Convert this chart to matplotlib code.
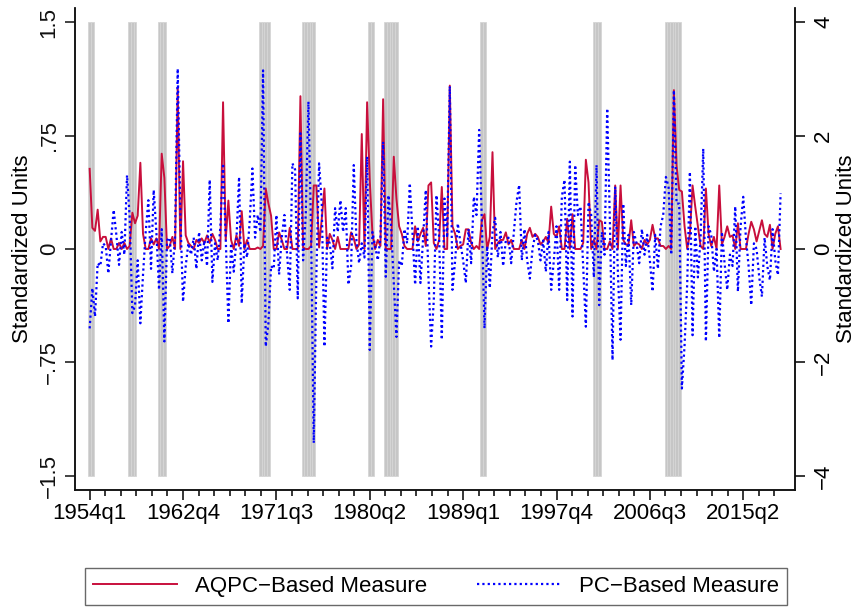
import matplotlib
matplotlib.use("Agg")
import matplotlib.pyplot as plt
from matplotlib.lines import Line2D
import numpy as np

plt.rcParams['font.family'] = ['Liberation Sans', 'DejaVu Sans']

# quarterly sample: 1954q1 .. 2018q4
start_year = 1954
n_quarters = 260
quarters = [f"{start_year + i // 4}q{i % 4 + 1}" for i in range(n_quarters)]

# AQPC-based measure (left axis)
aqpc = [
    0.53, 0.14, 0.12, 0.26, 0.05, 0.08, 0.08, 0.00, 0.07, 0.00,
    0.00, 0.04, 0.00, 0.04, 0.00, 0.02, 0.24, 0.17, 0.22, 0.57,
    0.10, 0.00, 0.00, 0.07, 0.03, 0.07, 0.00, 0.63, 0.47, 0.00,
    0.02, 0.08, 0.00, 1.07, 0.00, 0.58, 0.09, 0.04, 0.02, 0.00,
    0.06, 0.04, 0.07, 0.04, 0.09, 0.04, 0.10, 0.06, 0.00, 0.00,
    0.97, 0.06, 0.32, 0.06, 0.00, 0.09, 0.02, 0.25, 0.00, 0.06,
    0.00, 0.00, 0.00, 0.01, 0.00, 0.02, 0.40, 0.30, 0.22, 0.00,
    0.00, 0.11, 0.06, 0.00, 0.00, 0.14, 0.00, 0.00, 0.00, 1.01,
    0.01, 0.00, 0.00, 0.02, 0.42, 0.42, 0.01, 0.20, 0.40, 0.00,
    0.10, 0.06, 0.00, 0.08, 0.00, 0.00, 0.00, 0.00, 0.11, 0.07,
    0.00, 0.03, 0.76, 0.00, 0.97, 0.45, 0.10, 0.00, 0.06, 0.02,
    0.99, 0.00, 0.00, 0.00, 0.61, 0.33, 0.15, 0.10, 0.02, 0.00,
    0.00, 0.00, 0.15, 0.05, 0.10, 0.14, 0.02, 0.42, 0.44, 0.04,
    0.00, 0.06, 0.41, 0.00, 0.00, 1.08, 0.15, 0.10, 0.00, 0.02,
    0.03, 0.13, 0.13, 0.04, 0.00, 0.02, 0.00, 0.19, 0.23, 0.00,
    0.08, 0.64, 0.00, 0.04, 0.06, 0.06, 0.11, 0.03, 0.06, 0.00,
    0.00, 0.00, 0.06, 0.00, 0.10, 0.14, 0.08, 0.10, 0.08, 0.03,
    0.05, 0.08, 0.04, 0.28, 0.10, 0.08, 0.15, 0.00, 0.00, 0.20,
    0.00, 0.23, 0.00, 0.00, 0.00, 0.04, 0.59, 0.44, 0.00, 0.06,
    0.00, 0.19, 0.18, 0.00, 0.00, 0.05, 0.00, 0.42, 0.00, 0.42,
    0.06, 0.03, 0.03, 0.19, 0.02, 0.04, 0.03, 0.00, 0.06, 0.03,
    0.06, 0.16, 0.07, 0.07, 0.02, 0.02, 0.00, 0.02, 0.00, 1.05,
    0.55, 0.39, 0.38, 0.15, 0.00, 0.10, 0.42, 0.28, 0.15, 0.02,
    0.00, 0.40, 0.10, 0.02, 0.08, 0.00, 0.42, 0.03, 0.08, 0.15,
    0.08, 0.09, 0.00, 0.17, 0.00, 0.00, 0.00, 0.10, 0.18, 0.13,
    0.05, 0.12, 0.19, 0.10, 0.08, 0.16, 0.00, 0.10, 0.15, 0.00,
]

# PC-based measure (right axis)
pc = [
    -1.40, -0.69, -1.19, -0.25, -0.30, 0.10, 0.05, -0.43, 0.15, 0.69,
    0.25, -0.28, 0.30, -0.10, 1.30, 0.55, -1.13, -1.00, -0.20, -1.31,
    -0.45, 0.30, 0.86, -0.35, 1.04, 0.30, -0.72, 0.35, -1.63, 0.15,
    0.20, -0.43, 0.20, 3.18, 0.60, -0.93, -0.30, 0.10, -0.10, 0.20,
    -0.35, 0.30, -0.20, 0.15, -0.30, 1.22, -0.58, 0.10, -0.20, 0.40,
    1.51, 0.20, -1.31, 0.10, -0.40, 0.15, 1.27, -0.96, 0.10, -0.15,
    0.50, 1.42, 0.20, 0.60, 0.30, 3.15, -1.72, -1.31, -0.30, -0.35,
    0.60, -0.45, 0.20, 0.60, -0.10, -0.72, 1.51, 1.40, -0.87, 2.04,
    -0.20, 0.60, 2.60, 0.30, -3.42, -0.40, 1.51, 0.80, -1.72, 0.20,
    0.10, -0.34, 0.72, 0.30, 0.86, 0.30, 0.72, -0.63, -0.30, 1.48,
    0.15, -0.25, 0.10, -0.15, 1.63, -1.78, 0.30, 0.05, -0.20, 0.20,
    1.89, -0.49, 0.95, 0.40, -0.60, -1.55, -0.20, -0.30, 0.35, 0.10,
    1.16, 0.30, -0.63, 0.40, -0.60, 0.20, 1.04, -0.50, -1.72, -0.90,
    0.95, 0.20, -1.60, 0.89, 0.20, 2.87, -0.72, -0.20, 0.45, 0.10,
    -0.20, -0.60, 0.35, -0.25, 0.92, 0.60, 2.10, 0.50, -1.40, 0.05,
    -0.69, 0.30, 0.55, -0.15, 0.30, -0.30, 0.15, 0.20, -0.25, 0.30,
    0.83, 1.13, -0.20, 0.35, -0.20, -0.52, 0.00, 0.25, 0.15, -0.20,
    0.15, -0.40, 0.30, -0.72, -0.20, 0.40, -0.72, 0.92, 1.22, -0.90,
    1.54, -1.19, 1.48, 0.60, 0.75, -0.30, -1.37, 0.83, 0.60, -0.50,
    1.48, -0.99, 0.30, -0.10, 2.48, 0.50, -1.96, 1.10, -0.40, -1.60,
    0.80, -0.30, 0.25, -0.99, 0.30, 0.10, -0.25, 0.35, -0.10, 0.25,
    -0.20, -0.75, 0.25, -0.35, 0.40, 0.60, 1.27, 1.10, -0.10, 2.80,
    0.80, 0.80, -2.46, -1.70, -0.60, 1.36, -1.52, 0.40, -0.50, 0.20,
    1.77, -1.63, 0.40, 0.25, -0.40, 0.00, -1.57, 0.30, -0.25, -0.72,
    -0.10, -0.30, 0.75, -0.75, 0.40, 0.92, 0.20, -0.30, -0.99, 0.10,
    0.00, -0.50, -0.84, 0.20, -0.30, -0.55, 0.35, -0.20, -0.46, 0.98,
]

# NBER recession quarters (shaded)
recession_quarters = [
    "1954q1", "1954q2",
    "1957q4", "1958q1", "1958q2",
    "1960q3", "1960q4", "1961q1",
    "1970q1", "1970q2", "1970q3", "1970q4",
    "1974q1", "1974q2", "1974q3", "1974q4", "1975q1",
    "1980q2", "1980q3",
    "1981q4", "1982q1", "1982q2", "1982q3", "1982q4",
    "1990q4", "1991q1",
    "2001q2", "2001q3", "2001q4",
    "2008q1", "2008q2", "2008q3", "2008q4", "2009q1", "2009q2",
]

left_ticks = [-1.5, -0.75, 0, 0.75, 1.5]
left_labels = ["\u22121.5", "\u2212.75", "0", ".75", "1.5"]
right_ticks = [-4, -2, 0, 2, 4]
right_labels = ["\u22124", "\u22122", "0", "2", "4"]

x = np.arange(n_quarters)
rec_x = [quarters.index(q) for q in recession_quarters]

red = '#c80f3c'
blue = '#0000ff'

fig = plt.figure(figsize=(8.55, 6.07), dpi=100)
ax = fig.add_axes([75 / 855, 1 - 490 / 607, 720 / 855, 482 / 607])
ax2 = ax.twinx()

ax.bar(rec_x, [3.0] * len(rec_x), bottom=-1.5, width=1.0,
       color='#c6c6c6', edgecolor='#d6d6d6', linewidth=0.6, zorder=1)
ax.plot(x, aqpc, color=red, lw=1.4, zorder=3)
ax2.plot(x, pc, color=blue, lw=1.6, linestyle=(0, (1, 1.4)), zorder=3)

ax.set_xlim(-5.5, 264.4)
ax.set_ylim(-1.593, 1.593)
ax2.set_ylim(-4.25, 4.25)

major = list(range(0, n_quarters, 35))
ax.set_xticks(major)
ax.set_xticklabels([quarters[i] for i in major], fontsize=16)
minor = [m + k * 35 / 6 for m in major for k in range(1, 6) if m + k * 35 / 6 < n_quarters - 1]
ax.set_xticks(minor, minor=True)

ax.set_yticks(left_ticks)
ax.set_yticklabels(left_labels, fontsize=16, rotation=90, va='center')
ax2.set_yticks(right_ticks)
ax2.set_yticklabels(right_labels, fontsize=16, rotation=90, va='center')

ax.tick_params(axis='x', which='major', length=7, width=1.1, pad=2)
ax.tick_params(axis='x', which='minor', length=4, width=1.1)
ax.tick_params(axis='y', length=7, width=1.1, pad=4, colors='#111111')
ax2.tick_params(axis='y', length=7, width=1.1, pad=6)

for a in (ax, ax2):
    a.spines['top'].set_visible(False)
    for s in ('left', 'right', 'bottom'):
        a.spines[s].set_linewidth(1.1)
        a.spines[s].set_color('#111111')

fig.text(23 / 855, 1 - 249 / 607, "Standardized Units", fontsize=16,
         rotation=90, ha='center', va='center')
fig.text(846 / 855, 1 - 249 / 607, "Standardized Units", fontsize=16,
         rotation=90, ha='center', va='center')

handles = [Line2D([], [], color=red, lw=1.4),
           Line2D([], [], color=blue, lw=1.6, linestyle=(0, (1, 1.4)))]
leg = fig.legend(handles, ["AQPC\u2212Based Measure", "PC\u2212Based Measure"],
                 loc='lower left', bbox_to_anchor=(85 / 855, 2 / 607, 702 / 855, 42 / 607),
                 mode='expand', ncol=2, fontsize=16, frameon=True, fancybox=False,
                 handlelength=3.8, borderaxespad=0, borderpad=0.35)
leg.get_frame().set_edgecolor('#444444')
leg.get_frame().set_linewidth(1.0)

fig.savefig("out.png", dpi=100, facecolor='white')
